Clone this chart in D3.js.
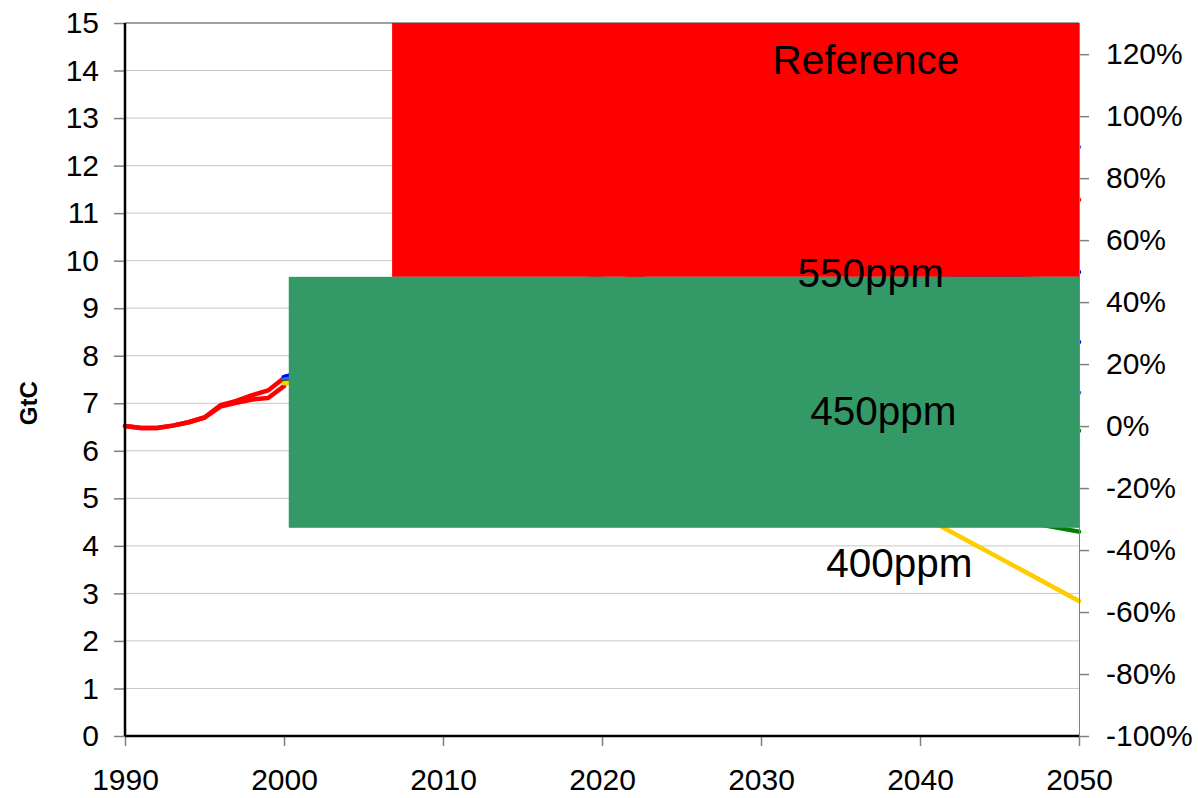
<!DOCTYPE html>
<html>
<head>
<meta charset="utf-8">
<script src="https://cdn.jsdelivr.net/npm/d3@7"></script>
<style>
  html, body { margin: 0; padding: 0; background: #fff; }
  svg { display: block; font-family: "Liberation Sans", Arial, sans-serif; }
</style>
</head>
<body>
<svg id="chart" width="1198" height="798"></svg>
<script>
// ---- data ----
const histYears = [1990, 1991, 1992, 1993, 1994, 1995, 1996, 1997, 1998, 1999, 2000];
const histUpper = [6.52, 6.48, 6.48, 6.53, 6.60, 6.70, 6.96, 7.05, 7.17, 7.27, 7.53];
const histLower = [6.52, 6.48, 6.48, 6.53, 6.60, 6.70, 6.93, 7.01, 7.08, 7.11, 7.36];

const scenYears = [2000, 2010, 2020, 2030, 2040, 2050];
const refHigh  = [7.55, 8.6, 9.7, 10.8, 11.6, 12.39];
const refMain  = [7.50, 8.5, 9.5, 10.3, 10.9, 11.28];
const s550a    = [7.55, 8.3, 8.9, 9.3, 9.6, 9.76];
const s550b    = [7.55, 8.1, 8.4, 8.5, 8.4, 8.29];
const s450a    = [7.50, 7.9, 7.9, 7.7, 7.4, 7.22];
const s450b    = [7.45, 7.7, 7.5, 7.1, 6.7, 6.42];
const s450c    = [7.45, 7.6, 7.2, 6.2, 4.9, 4.30];
const s400     = [7.42, 7.6, 7.0, 5.9, 4.65, 2.84];

const scenarioNames  = ["refHigh", "refMain", "s550a", "s550b", "s450a", "s450b", "s450c", "s400"];
const scenarioValues = [refHigh, refMain, s550a, s550b, s450a, s450b, s450c, s400];
const scenarioColors = ["#3366ff", "#ff0000", "#0000ff", "#0000ff", "#3366ff", "#008000", "#008000", "#ffcc00"];

// label boxes (data coordinates: year range, GtC range)
const boxNames  = ["Reference", "550ppm"];
const boxX0     = [2006.8, 2000.3];
const boxX1     = [2050, 2050];
const boxY0     = [9.66, 4.38];
const boxY1     = [15, 9.66];
const boxColors = ["#ff0000", "#339966"];

const labelTexts = ["Reference", "550ppm", "450ppm", "400ppm"];
const labelYears = [2036.6, 2036.9, 2037.7, 2038.7];
const labelVals  = [13.93, 9.45, 6.54, 3.34];

const leftTicks  = d3.range(0, 16, 1);
const rightTicks = d3.range(-100, 121, 20);
const xTicks     = [1990, 2000, 2010, 2020, 2030, 2040, 2050];
const yAxisTitle = "GtC";

// ---- layout ----
const svg = d3.select("#chart");
const L = 125, R = 1079, T = 23, B = 736;
const x = d3.scaleLinear([1990, 2050], [L, R]);
const y = d3.scaleLinear([0, 15], [B, T]);
const base = histUpper[0];
const yR = d3.scaleLinear([-100, (15 / base - 1) * 100], [B, T]);

// gridlines
svg.append("g").selectAll("line").data(leftTicks.filter(d => d > 0 && d < 15)).join("line")
  .attr("x1", L).attr("x2", R).attr("y1", d => y(d)).attr("y2", d => y(d))
  .attr("stroke", "#c8c8c8").attr("stroke-width", 1);

// top border
svg.append("line").attr("x1", L).attr("x2", R).attr("y1", T).attr("y2", T)
  .attr("stroke", "#808080").attr("stroke-width", 1.5);

// lines
const line = d3.line().x(d => x(d[0])).y(d => y(d[1]));
const g = svg.append("g").attr("fill", "none").attr("stroke-linejoin", "round").attr("stroke-linecap", "round");
[histUpper, histLower].forEach(vals => {
  g.append("path").datum(histYears.map((yr, i) => [yr, vals[i]]))
    .attr("d", line).attr("stroke", "#ff0000").attr("stroke-width", 4.5);
});
scenarioValues.forEach((vals, k) => {
  g.append("path").datum(scenYears.map((yr, i) => [yr, vals[i]]))
    .attr("d", line).attr("stroke", scenarioColors[k]).attr("stroke-width", 4.5);
});

// boxes
svg.append("g").selectAll("rect").data(boxNames).join("rect")
  .attr("x", (d, i) => x(boxX0[i]))
  .attr("width", (d, i) => x(boxX1[i]) - x(boxX0[i]))
  .attr("y", (d, i) => y(boxY1[i]))
  .attr("height", (d, i) => y(boxY0[i]) - y(boxY1[i]))
  .attr("fill", (d, i) => boxColors[i]);

// right border line
svg.append("line").attr("x1", R + 0.5).attr("x2", R + 0.5).attr("y1", T).attr("y2", B)
  .attr("stroke", "#808080").attr("stroke-width", 1);

// axes
const fs = 30;
const axL = svg.append("g").attr("transform", `translate(${L},0)`)
  .call(d3.axisLeft(y).tickValues(leftTicks).tickFormat(d3.format("d")).tickSize(11).tickPadding(15));
const axR = svg.append("g").attr("transform", `translate(${R + 1},0)`)
  .call(d3.axisRight(yR).tickValues(rightTicks).tickFormat(d => d + "%").tickSize(9).tickPadding(17));
const axB = svg.append("g").attr("transform", `translate(0,${B})`)
  .call(d3.axisBottom(x).tickValues(xTicks).tickFormat(d3.format("d")).tickSize(10).tickPadding(23));
[axL, axR, axB].forEach(a => {
  a.selectAll(".domain").remove();
  a.selectAll(".tick line").attr("stroke", "#808080").attr("stroke-width", 1.5);
  a.selectAll("text").attr("font-size", fs).attr("fill", "#000")
    .attr("font-family", "'Liberation Sans', Arial, sans-serif");
});

// black left and bottom axis lines
svg.append("line").attr("x1", L).attr("x2", L).attr("y1", T).attr("y2", B)
  .attr("stroke", "#000").attr("stroke-width", 2.5);
svg.append("line").attr("x1", L).attr("x2", R).attr("y1", B).attr("y2", B)
  .attr("stroke", "#000").attr("stroke-width", 2.5);

// axis title
svg.append("text").attr("transform", `translate(37,${y(7)}) rotate(-90)`)
  .attr("text-anchor", "middle").attr("font-weight", "bold").attr("font-size", 24)
  .text(yAxisTitle);

// labels
svg.append("g").selectAll("text").data(labelTexts).join("text")
  .attr("x", (d, i) => x(labelYears[i])).attr("y", (d, i) => y(labelVals[i]))
  .attr("text-anchor", "middle").attr("font-size", 40.5).attr("fill", "#000")
  .text(d => d);
</script>
</body>
</html>
